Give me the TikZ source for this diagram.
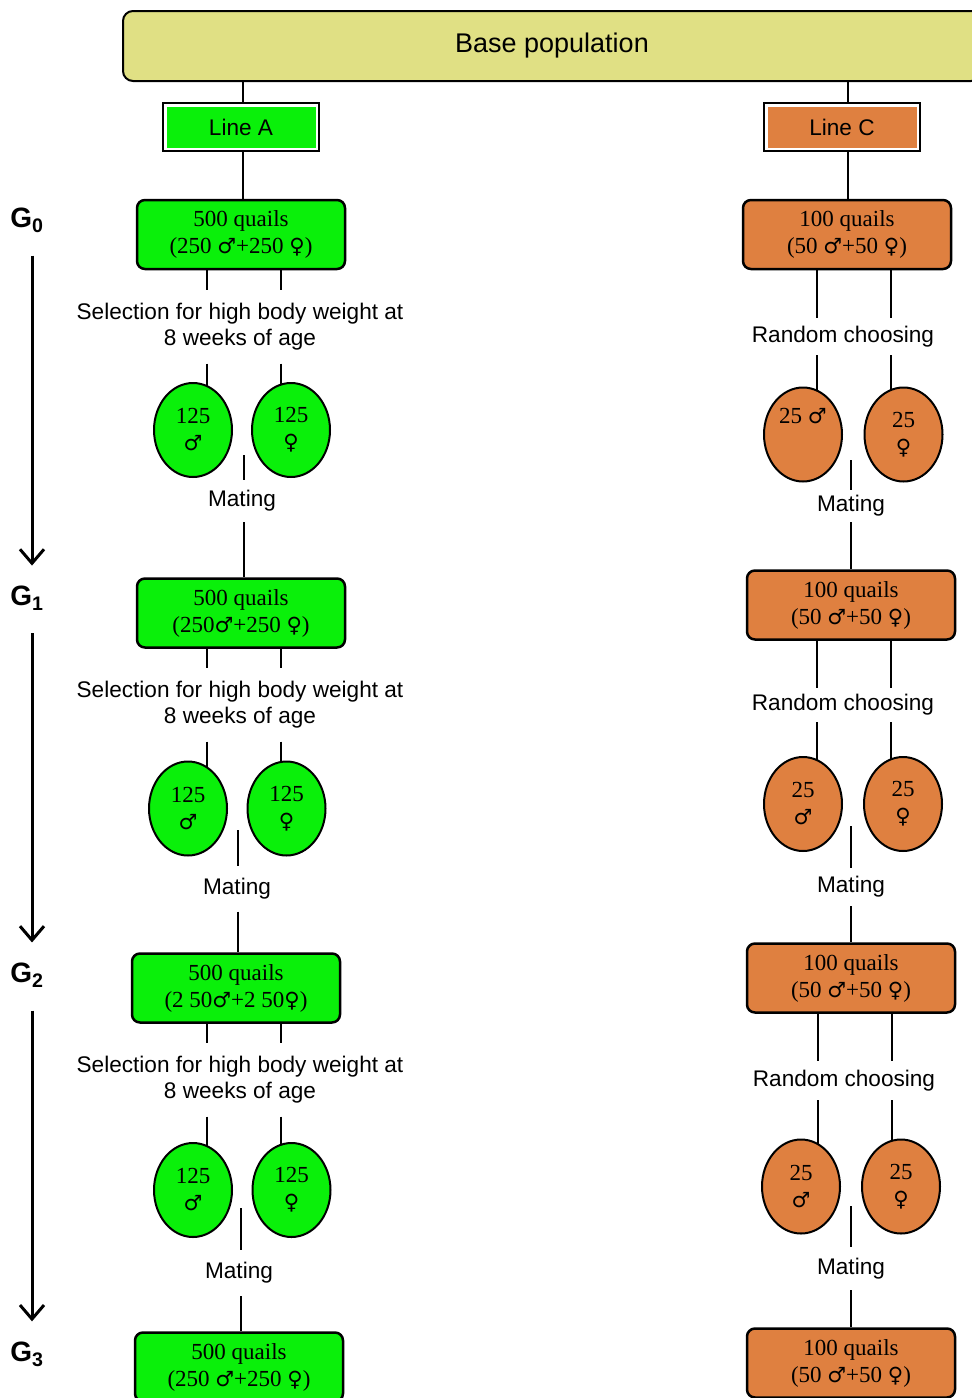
\documentclass[tikz,border=0pt]{standalone}
\usepackage{fontspec}
\setmainfont{Liberation Serif}
\setsansfont{Liberation Sans}
\newfontfamily\symfont{DejaVu Sans}
\newcommand{\msym}{{\symfont\fontsize{21}{21}\selectfont ♂}}
\newcommand{\fsym}{{\symfont\fontsize{21}{21}\selectfont ♀}}
\usetikzlibrary{shapes.geometric,arrows.meta,backgrounds}
\definecolor{qgreen}{RGB}{10,240,10}
\definecolor{qorange}{RGB}{223,128,64}
\definecolor{qkhaki}{RGB}{224,224,132}
\begin{document}
\begin{tikzpicture}[x=1pt,y=-1pt,
  conn/.style={line width=2pt},
  basebox/.style={draw, line width=2pt, rounded corners=10pt, fill=qkhaki, minimum width=858pt, minimum height=70pt, inner sep=0pt, font=\sffamily\fontsize{27}{30}\selectfont},
  linebox/.style={draw, line width=2.5pt, fill=white, minimum width=156pt, minimum height=48pt, inner sep=0pt, font=\sffamily\fontsize{22.6}{26}\selectfont,
    path picture={\fill[#1] ([shift={(3.5pt,3.5pt)}]path picture bounding box.south west) rectangle ([shift={(-3.5pt,-3.5pt)}]path picture bounding box.north east);}},
  qbox/.style={draw, line width=2.5pt, rounded corners=8pt, fill=#1, minimum width=208pt, minimum height=69pt, align=center, inner sep=0pt, font=\fontsize{23}{27}\selectfont},
  egg/.style={ellipse, draw, line width=2pt, fill=#1, minimum width=78pt, minimum height=94pt, inner sep=0pt, align=center, font=\fontsize{23}{27}\selectfont},
  lbl/.style={align=center, inner sep=0pt, font=\sffamily\fontsize{22.6}{26}\selectfont},
  gen/.style={inner sep=0pt, font=\sffamily\bfseries\fontsize{28}{30}\selectfont},
  genarrow/.style={line width=3pt, -{Straight Barb[length=14pt,width=24pt,line width=3pt]}, shorten <=23pt, shorten >=20pt}
]
\useasboundingbox (0,0) rectangle (972,1398);
\clip (0,0) rectangle (972,1398);

% top
\node[basebox] (base) at (552,46) {Base population};
\node[linebox=qgreen] (lA) at (241,127) {Line A};
\node[linebox=qorange] (lC) at (842,127) {Line C};

% generation labels
\node[gen] (G0) at (27,220) {G\textsubscript{0}};
\node[gen] (G1) at (27,598) {G\textsubscript{1}};
\node[gen] (G2) at (27,975) {G\textsubscript{2}};
\node[gen] (G3) at (27,1354) {G\textsubscript{3}};

% line A
\node[qbox=qgreen] (a0) at (241,234.5) {500 quails\\(250 \msym+250 \fsym)};
\node[lbl, minimum height=73pt] (sa0) at (240,327) {Selection for high body weight at\\8 weeks of age};
\node[egg=qgreen] (ma0) at (193,430) {125\\\msym};
\node[egg=qgreen] (fa0) at (291,430) {125\\\fsym};
\node[lbl, minimum height=42pt] (xa0) at (242,501) {Mating};
\coordinate (ta0) at (244,455);

\node[qbox=qgreen] (a1) at (241,613) {500 quails\\(250\msym+250 \fsym)};
\node[lbl, minimum height=73pt] (sa1) at (240,705) {Selection for high body weight at\\8 weeks of age};
\node[egg=qgreen] (ma1) at (188,808.5) {125\\\msym};
\node[egg=qgreen] (fa1) at (286.5,808.5) {125\\\fsym};
\node[lbl, minimum height=45pt] (xa1) at (237,889) {Mating};
\coordinate (ta1) at (238,830);

\node[qbox=qgreen] (a2) at (236,988) {500 quails\\(2 50\msym+2 50\fsym)};
\node[lbl, minimum height=73pt] (sa2) at (240,1080) {Selection for high body weight at\\8 weeks of age};
\node[egg=qgreen] (ma2) at (193,1190) {125\\\msym};
\node[egg=qgreen] (fa2) at (291.5,1190) {125\\\fsym};
\node[lbl, minimum height=46pt] (xa2) at (239,1273) {Mating};
\coordinate (ta2) at (241,1208);

\node[qbox=qgreen] (a3) at (239,1367) {500 quails\\(250 \msym+250 \fsym)};

% line C
\node[qbox=qorange] (c0) at (847,234.5) {100 quails\\(50 \msym+50 \fsym)};
\node[lbl, minimum height=37pt] (rc0) at (843,336.5) {Random choosing};
\node[egg=qorange] (mc0) at (803,434.5) {\raisebox{11.5pt}[0pt][0pt]{25 \msym}};
\node[egg=qorange] (fc0) at (903.5,434.5) {25\\\fsym};
\node[lbl, minimum height=32pt] (xc0) at (851,506) {Mating};
\coordinate (tc0) at (851,460);

\node[qbox=qorange] (c1) at (851,605) {100 quails\\(50 \msym+50 \fsym)};
\node[lbl, minimum height=34pt] (rc1) at (843,705) {Random choosing};
\node[egg=qorange] (mc1) at (803,804) {25\\\msym};
\node[egg=qorange] (fc1) at (903,804) {25\\\fsym};
\node[lbl, minimum height=38pt] (xc1) at (851,887) {Mating};
\coordinate (tc1) at (851,826);

\node[qbox=qorange] (c2) at (851,978) {100 quails\\(50 \msym+50 \fsym)};
\node[lbl, minimum height=39pt] (rc2) at (844,1080.5) {Random choosing};
\node[egg=qorange] (mc2) at (801,1186.5) {25\\\msym};
\node[egg=qorange] (fc2) at (901,1186.5) {25\\\fsym};
\node[lbl, minimum height=43pt] (xc2) at (851,1268.5) {Mating};
\coordinate (tc2) at (851,1206);

\node[qbox=qorange] (c3) at (851,1363) {100 quails\\(50 \msym+50 \fsym)};

% generation arrows
\draw[genarrow] ([xshift=5pt]G0.south) -- ([xshift=5pt]G1.north);
\draw[genarrow] ([xshift=5pt]G1.south) -- ([xshift=5pt]G2.north);
\draw[genarrow] ([xshift=5pt]G2.south) -- ([xshift=5pt]G3.north);

\begin{scope}[on background layer]
\begin{scope}[conn]
  % line A connectors
  \draw[conn] (243,0 |- base.south) -- (243,0 |- lA.north);
  \draw[conn] (243,0 |- lA.south) -- (243,0 |- a0.north);
  \draw[conn] (207,0 |- a0.south) -- (207,0 |- sa0.north);
  \draw[conn] (281,0 |- a0.south) -- (281,0 |- sa0.north);
  \draw[conn] (207,0 |- sa0.south) -- (207,0 |- ma0.center);
  \draw[conn] (281,0 |- sa0.south) -- (281,0 |- fa0.center);
  \draw[conn] (ta0) -- (244,0 |- xa0.north);
  \draw[conn] (244,0 |- xa0.south) -- (244,0 |- a1.north);

  \draw[conn] (207,0 |- a1.south) -- (207,0 |- sa1.north);
  \draw[conn] (281,0 |- a1.south) -- (281,0 |- sa1.north);
  \draw[conn] (207,0 |- sa1.south) -- (207,0 |- ma1.center);
  \draw[conn] (281,0 |- sa1.south) -- (281,0 |- fa1.center);
  \draw[conn] (ta1) -- (238,0 |- xa1.north);
  \draw[conn] (238,0 |- xa1.south) -- (238,0 |- a2.north);

  \draw[conn] (207,0 |- a2.south) -- (207,0 |- sa2.north);
  \draw[conn] (281,0 |- a2.south) -- (281,0 |- sa2.north);
  \draw[conn] (207,0 |- sa2.south) -- (207,0 |- ma2.center);
  \draw[conn] (281,0 |- sa2.south) -- (281,0 |- fa2.center);
  \draw[conn] (ta2) -- (241,0 |- xa2.north);
  \draw[conn] (241,0 |- xa2.south) -- (241,0 |- a3.north);

  % line C connectors
  \draw[conn] (848,0 |- base.south) -- (848,0 |- lC.north);
  \draw[conn] (848,0 |- lC.south) -- (848,0 |- c0.north);
  \draw[conn] (817,0 |- c0.south) -- (817,0 |- rc0.north);
  \draw[conn] (891,0 |- c0.south) -- (891,0 |- rc0.north);
  \draw[conn] (817,0 |- rc0.south) -- (817,0 |- mc0.center);
  \draw[conn] (891,0 |- rc0.south) -- (891,0 |- fc0.center);
  \draw[conn] (tc0) -- (851,0 |- xc0.north);
  \draw[conn] (851,0 |- xc0.south) -- (851,0 |- c1.north);

  \draw[conn] (817,0 |- c1.south) -- (817,0 |- rc1.north);
  \draw[conn] (891,0 |- c1.south) -- (891,0 |- rc1.north);
  \draw[conn] (817,0 |- rc1.south) -- (817,0 |- mc1.center);
  \draw[conn] (891,0 |- rc1.south) -- (891,0 |- fc1.center);
  \draw[conn] (tc1) -- (851,0 |- xc1.north);
  \draw[conn] (851,0 |- xc1.south) -- (851,0 |- c2.north);

  \draw[conn] (818,0 |- c2.south) -- (818,0 |- rc2.north);
  \draw[conn] (892,0 |- c2.south) -- (892,0 |- rc2.north);
  \draw[conn] (818,0 |- rc2.south) -- (818,0 |- mc2.center);
  \draw[conn] (892,0 |- rc2.south) -- (892,0 |- fc2.center);
  \draw[conn] (tc2) -- (851,0 |- xc2.north);
  \draw[conn] (851,0 |- xc2.south) -- (851,0 |- c3.north);
\end{scope}
\end{scope}
\end{tikzpicture}
\end{document}
